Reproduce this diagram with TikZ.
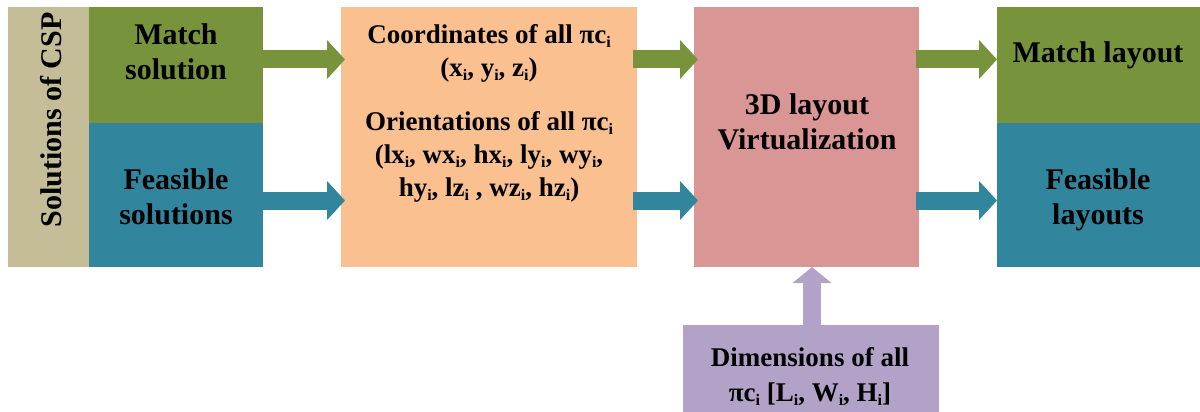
\documentclass[tikz,border=0pt]{standalone}
\usepackage{fontspec}
\setmainfont{Liberation Serif}
\usetikzlibrary{arrows.meta}
\definecolor{tanc}{HTML}{C4BD97}
\definecolor{greenc}{HTML}{77933C}
\definecolor{tealc}{HTML}{31859C}
\definecolor{orangec}{HTML}{FAC090}
\definecolor{pinkc}{HTML}{D99694}
\definecolor{purplec}{HTML}{B3A2C7}
\newcommand\sbi{\raisebox{-4pt}{\fontsize{16}{16}\selectfont i}}
\tikzset{
  box/.style={rectangle, draw=none, inner sep=0pt, outer sep=0pt},
  txt/.style={align=center, inner sep=0pt, font=\fontsize{30}{35}\selectfont\bfseries},
  stxt/.style={align=center, inner sep=0pt, font=\fontsize{27}{33}\selectfont\bfseries},
  blk/.style={line width=18pt, -{Triangle[length=18pt,width=38pt]}},
}
\begin{document}
\begin{tikzpicture}[x=1pt,y=-1pt]
\useasboundingbox (0,0) rectangle (1200,412);
% boxes
\node[box, fill=tanc, minimum width=81pt, minimum height=260pt] (csp) at (48.5,137) {};
\node[box, fill=greenc, minimum width=174pt, minimum height=116pt] (ms) at (176,65) {};
\node[box, fill=tealc, minimum width=174pt, minimum height=144pt] (fs) at (176,195) {};
\node[box, fill=orangec, minimum width=296pt, minimum height=260pt] (co) at (489,137) {};
\node[box, fill=pinkc, minimum width=225pt, minimum height=260pt] (vz) at (806.5,137) {};
\node[box, fill=greenc, minimum width=203pt, minimum height=116pt] (ml) at (1098.5,65) {};
\node[box, fill=tealc, minimum width=203pt, minimum height=144pt] (fl) at (1098.5,195) {};
\node[box, fill=purplec, minimum width=256pt, minimum height=87pt] (dm) at (811,368.5) {};
% texts
\node[txt, rotate=90] (tcsp) at (51,120) {Solutions of CSP};
\node[txt] (tms) at (176,52) {Match\\solution};
\node[txt] (tfs) at (176,197) {Feasible\\solutions};
\node[stxt] (tco1) at (489,53) {Coordinates of all πc\sbi\\(x\sbi, y\sbi, z\sbi)};
\node[stxt] (tco2) at (489,157) {Orientations of all πc\sbi\\(lx\sbi, wx\sbi, hx\sbi, ly\sbi, wy\sbi,\\hy\sbi, lz\sbi\ , wz\sbi, hz\sbi)};
\node[txt] (tvz) at (807,122) {3D layout\\Virtualization};
\node[txt] (tml) at (1098,55) {Match layout};
\node[txt] (tfl) at (1098,199.5) {Feasible\\layouts};
\node[stxt, font=\fontsize{27}{35}\selectfont\bfseries] (tdm) at (810,377) {Dimensions of all\\πc\sbi\ [L\sbi, W\sbi, H\sbi]};
% arrows
\coordinate (y1) at (0,59.5);
\coordinate (y2) at (0,200.5);
\coordinate (ax) at (812,0);
\draw[blk, greenc] (ms.east |- y1) -- ([xshift=4pt]co.west |- y1);
\draw[blk, tealc] (fs.east |- y2) -- ([xshift=4pt]co.west |- y2);
\draw[blk, greenc] ([xshift=-4pt]co.east |- y1) -- ([xshift=4pt]vz.west |- y1);
\draw[blk, tealc] ([xshift=-4pt]co.east |- y2) -- ([xshift=4pt]vz.west |- y2);
\draw[blk, greenc] ([xshift=-3pt]vz.east |- y1) -- (ml.west |- y1);
\draw[blk, tealc] ([xshift=-3pt]vz.east |- y2) -- (fl.west |- y2);
\draw[line width=18pt, purplec, -{Triangle[length=16pt,width=38pt]}] (dm.north -| ax) -- (vz.south -| ax);
\end{tikzpicture}
\end{document}
